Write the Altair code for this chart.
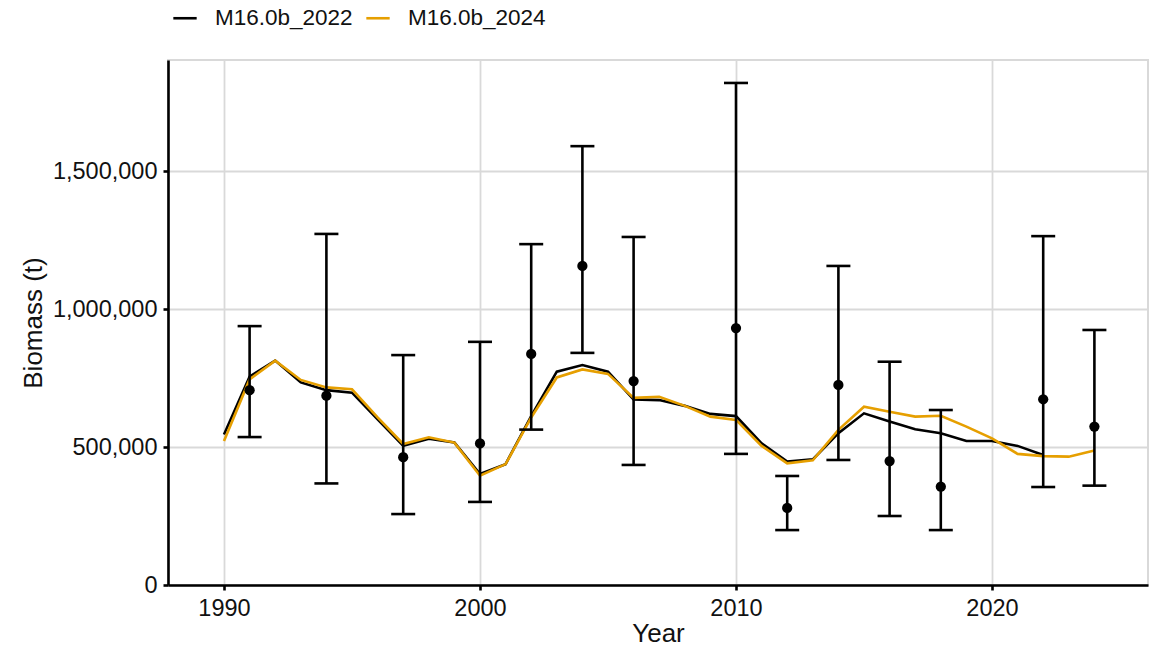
import altair as alt
import pandas as pd

# ---- data (thousands of tonnes) ----
years_2022 = list(range(1990, 2023))
biomass_2022 = [545, 755, 813, 734, 706, 697, 600, 504, 530, 516, 402, 438, 612, 773,
                797, 773, 672, 670, 649, 620, 612, 513, 447, 455, 550, 622, 592, 564,
                550, 522, 522, 504, 471]
years_2024 = list(range(1990, 2025))
biomass_2024 = [522, 745, 813, 743, 716, 709, 607, 511, 535, 516, 396, 438, 607, 752,
                781, 765, 678, 682, 649, 610, 598, 504, 441, 452, 562, 646, 628, 610,
                613, 574, 531, 475, 467, 465, 487]
model_names = ["M16.0b_2022", "M16.0b_2024"]
model_colors = ["#000000", "#E69F00"]

survey_years = [1991, 1994, 1997, 2000, 2002, 2004, 2006, 2010, 2012, 2014, 2016, 2018, 2022, 2024]
survey_obs = [706, 686, 463, 513, 837, 1156, 739, 931, 279, 725, 449, 356, 673, 574]
survey_lo = [536, 368, 257, 301, 563, 841, 435, 475, 199, 453, 250, 199, 355, 360]
survey_hi = [938, 1272, 833, 881, 1235, 1590, 1261, 1819, 395, 1156, 809, 634, 1264, 924]

x_ticks = [1990, 2000, 2010, 2020]
y_ticks = [0, 500000, 1000000, 1500000]

# ---- tables ----
lines_df = pd.concat([
    pd.DataFrame({"year": years_2022, "biomass": [v * 1000 for v in biomass_2022], "model": model_names[0]}),
    pd.DataFrame({"year": years_2024, "biomass": [v * 1000 for v in biomass_2024], "model": model_names[1]}),
])
survey_df = pd.DataFrame({
    "year": survey_years,
    "obs": [v * 1000 for v in survey_obs],
    "lo": [v * 1000 for v in survey_lo],
    "hi": [v * 1000 for v in survey_hi],
})

x_scale = alt.Scale(domain=[1987.8125, 2026.09375], nice=False, zero=False)
y_scale = alt.Scale(domain=[0, 1902174], nice=False)

x_enc = alt.X("year:Q", scale=x_scale,
              axis=alt.Axis(values=x_ticks, format="d", title="Year", labelPadding=6, titlePadding=1))
y_axis = alt.Axis(values=y_ticks, format=",d", title="Biomass (t)", labelPadding=6, titlePadding=6)

lines = alt.Chart(lines_df).mark_line(strokeWidth=2.6).encode(
    x=x_enc,
    y=alt.Y("biomass:Q", scale=y_scale, axis=y_axis),
    color=alt.Color("model:N",
                    scale=alt.Scale(domain=model_names, range=model_colors),
                    legend=alt.Legend(orient="none", legendX=4, legendY=-55, direction="horizontal",
                                      title=None, symbolType="stroke", symbolSize=545,
                                      symbolStrokeWidth=2.6, labelFontSize=22.5,
                                      labelFont="Liberation Sans", labelColor="#111111",
                                      labelOffset=17, columnPadding=8)),
)

bars = alt.Chart(survey_df).mark_rule(color="black", strokeWidth=2.6).encode(
    x="year:Q", y=alt.Y("lo:Q", scale=y_scale), y2="hi:Q")
cap_hi = alt.Chart(survey_df).mark_rule(color="black", strokeWidth=2.6, xOffset=-12, x2Offset=12).encode(
    x="year:Q", x2="year:Q", y=alt.Y("hi:Q", scale=y_scale))
cap_lo = alt.Chart(survey_df).mark_rule(color="black", strokeWidth=2.6, xOffset=-12, x2Offset=12).encode(
    x="year:Q", x2="year:Q", y=alt.Y("lo:Q", scale=y_scale))
points = alt.Chart(survey_df).mark_circle(color="black", opacity=1, size=105).encode(
    x="year:Q", y=alt.Y("obs:Q", scale=y_scale))

chart = alt.layer(lines, bars, cap_hi, cap_lo, points).properties(
    width=980, height=525,
    autosize=alt.AutoSizeParams(type="none"),
    padding={"left": 168, "top": 60, "right": 8, "bottom": 64},
    background="white",
).configure_view(
    stroke="#d9d9d9", strokeWidth=2
).configure_axis(
    domainColor="black", domainWidth=2.6, tickColor="black", tickWidth=2.6, tickSize=5,
    labelFont="Liberation Sans", labelFontSize=23.5, labelColor="#111111",
    titleFont="Liberation Sans", titleFontSize=26, titleFontWeight="normal", titleColor="#111111",
    gridColor="#d9d9d9", gridWidth=1.8,
)

chart.save("out.html", embed_options={"renderer": "svg", "actions": False})
